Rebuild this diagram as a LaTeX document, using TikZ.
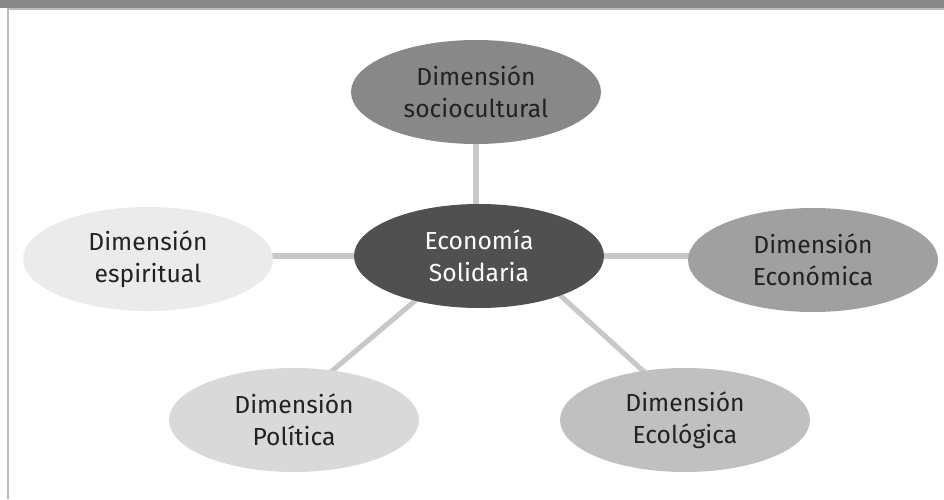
\documentclass[tikz,border=0pt]{standalone}
\usepackage{fontspec}
\setmainfont{Fira Sans}
\usetikzlibrary{shapes.geometric,backgrounds,calc}
\definecolor{barc}{HTML}{888888}
\definecolor{linec}{HTML}{BBBBBB}
\definecolor{connc}{HTML}{C8C8C8}
\definecolor{cmain}{HTML}{505050}
\definecolor{ctop}{HTML}{888888}
\definecolor{cleft}{HTML}{EBEBEB}
\definecolor{cright}{HTML}{A0A0A0}
\definecolor{cpol}{HTML}{D9D9D9}
\definecolor{ceco}{HTML}{C0C0C0}
\definecolor{txt}{HTML}{222222}
\begin{document}
\begin{tikzpicture}[x=0.75pt,y=-0.75pt,
  dim/.style={ellipse,minimum width=187.5pt,minimum height=78pt,inner sep=0pt,
    align=center,text=txt,font=\fontsize{18.5}{24}\selectfont},
  conn/.style={draw=connc,line width=3.8pt}]
\useasboundingbox (0,0) rectangle (944,499);
\node[dim,fill=cmain,text=white] (c) at (479,256) {Economía\\Solidaria};
\node[dim,fill=ctop] (t) at (476,92) {Dimensión\\sociocultural};
\node[dim,fill=cleft] (l) at (148,259) {Dimensión\\espiritual};
\node[dim,fill=cright] (r) at (813,260) {Dimensión\\Económica};
\node[dim,fill=cpol] (p) at (294,420) {Dimensión\\Política};
\node[dim,fill=ceco] (e) at (685,420) {Dimensión\\Ecológica};
\begin{scope}[on background layer]
\fill[white] (0,0) rectangle (944,499);
\fill[barc] (0,0) rectangle (944,8);
\fill[linec] (7,8) rectangle (944,10);
\fill[linec] (7,8) rectangle (9,499);
\draw[conn] (t.center) -- (t.center |- c.center);
\draw[conn] (c.center) -- (l.center |- c.center);
\draw[conn] (c.center) -- (r.center |- c.center);
\draw[conn] ($(c.center)+(-11,0)$) -- ($(p.center)+(-20,0)$);
\draw[conn] ($(c.center)+(38,0)$) -- ($(e.center)+(12,0)$);
\end{scope}
\end{tikzpicture}
\end{document}
